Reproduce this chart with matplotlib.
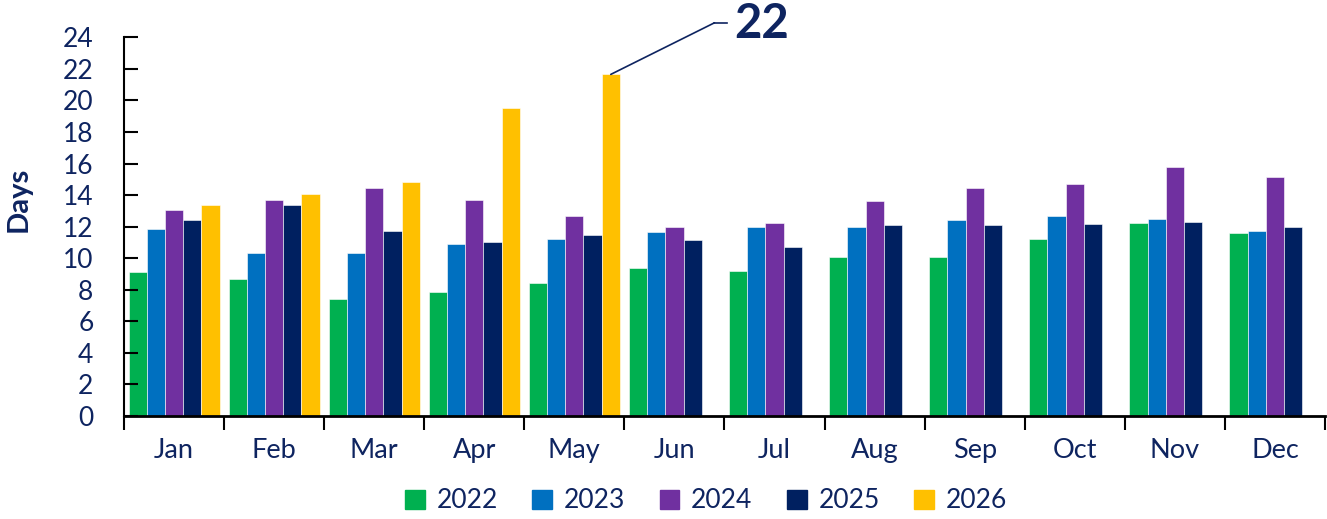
import numpy as np
import matplotlib.pyplot as plt
from matplotlib.patches import Patch

# Data
months = ['Jan', 'Feb', 'Mar', 'Apr', 'May', 'Jun', 'Jul', 'Aug', 'Sep', 'Oct', 'Nov', 'Dec']
years = ['2022', '2023', '2024', '2025', '2026']

d2022 = [9.1, 8.7, 7.4, 7.85, 8.45, 9.4, 9.2, 10.1, 10.1, 11.2, 12.2, 11.6]
d2023 = [11.85, 10.35, 10.35, 10.9, 11.2, 11.65, 12.0, 12.0, 12.4, 12.65, 12.5, 11.7]
d2024 = [13.05, 13.7, 14.45, 13.7, 12.65, 12.0, 12.25, 13.65, 14.45, 14.7, 15.8, 15.15]
d2025 = [12.45, 13.35, 11.75, 11.05, 11.5, 11.15, 10.7, 12.1, 12.1, 12.15, 12.3, 12.0]
d2026 = [13.4, 14.05, 14.85, 19.55, 21.65]

colors = ['#00B050', '#0070C0', '#7030A0', '#002060', '#FFC000']
txt = '#0E2460'

plt.rcParams['font.family'] = ['Lato', 'DejaVu Sans']

fig = plt.figure(figsize=(13.27, 5.19), dpi=100)
ax = fig.add_axes([124 / 1327, 103 / 519, 1201 / 1327, 378.7 / 519])

x = np.arange(len(months))
w = 0.182
series = [d2022, d2023, d2024, d2025, d2026]
for i, (vals, c) in enumerate(zip(series, colors)):
    xs = x[:len(vals)] + (i - 2) * w
    ax.bar(xs, vals, w, color=c, edgecolor='white', linewidth=0.4, label=years[i])

ax.set_xlim(-0.5, 11.5)
ax.set_ylim(0, 24)
ax.set_yticks(range(0, 25, 2))
ax.set_xticks(x)
ax.set_xticklabels(months)
ax.set_xticks(np.arange(-0.5, 12, 1), minor=True)

for s in ['top', 'right']:
    ax.spines[s].set_visible(False)
ax.spines['left'].set_linewidth(1.5)
ax.spines['bottom'].set_linewidth(2)

ax.tick_params(axis='y', direction='in', length=10, width=1.5, pad=22,
               labelsize=19, labelcolor=txt)
ax.tick_params(axis='x', which='major', length=0, pad=16, labelsize=19.5, labelcolor=txt)
ax.tick_params(axis='x', which='minor', direction='out', length=10, width=1.5)

ax.set_ylabel('Days', fontsize=21, fontweight='bold', color=txt)
ax.yaxis.set_label_coords(-92 / 1201, (416 - 199) / 378.7)

# callout for May 2026
ax.annotate('', xy=(4 + 2 * w, d2026[4]), xytext=(5.40, 24.92),
            arrowprops=dict(arrowstyle='-', color=txt, lw=1.2, shrinkA=0, shrinkB=0),
            annotation_clip=False)
ax.plot([5.40, 5.52], [24.92, 24.92], color=txt, lw=1.2, clip_on=False)
ax.text(5.60, 24.85, '22', fontsize=34, fontweight='bold', color=txt,
        va='center', ha='left', clip_on=False)

handles = [Patch(color=c) for c in colors]
leg = fig.legend(handles, years, loc='center', bbox_to_anchor=(0.532, 1 - 501 / 519),
                 ncol=5, frameon=False, fontsize=19, handlelength=0.75, handleheight=0.75,
                 handletextpad=0.45, columnspacing=1.3)
for t in leg.get_texts():
    t.set_color(txt)

fig.savefig('out.png', dpi=100)
